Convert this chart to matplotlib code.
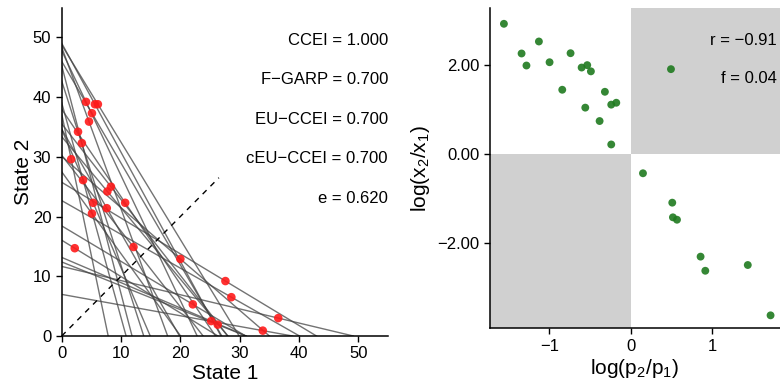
import numpy as np
import matplotlib
matplotlib.use('Agg')
import matplotlib.pyplot as plt
from matplotlib.ticker import FuncFormatter

plt.rcParams['font.family'] = ['Liberation Sans', 'DejaVu Sans']

# chosen bundles (state 1, state 2) and log price ratio log(p2/p1)
state1 = [4.1, 5.6, 6.1, 5.1, 4.6, 2.75, 3.4, 1.6, 3.6, 8.3, 7.7, 5.3, 10.7,
          7.6, 5.1, 2.2, 12.1, 20.0, 27.6, 28.6, 22.1, 36.5, 25.2, 26.3, 33.9]
state2 = [39.2, 38.8, 38.8, 37.3, 35.9, 34.2, 32.3, 29.6, 26.1, 25.0, 24.2, 22.3, 22.3,
          21.4, 20.5, 14.7, 14.9, 12.9, 9.2, 6.5, 5.3, 3.0, 2.5, 1.9, 0.9]
log_price = [-0.738, -0.602, -0.488, -0.533, -0.996, -1.127, -1.34, -1.557, -1.28, -0.238,
             -0.176, -0.84, -0.381, -0.557, -0.316, 0.496, -0.238, 0.152, 0.512, 0.57,
             0.52, 1.44, 0.86, 0.918, 1.72]

left_labels = ['CCEI = 1.000', 'F\u2212GARP = 0.700', 'EU\u2212CCEI = 0.700',
               'cEU\u2212CCEI = 0.700', 'e = 0.620']
right_labels = ['r = \u22120.91', 'f = 0.04']

x1 = np.array(state1)
x2 = np.array(state2)
lp = np.array(log_price)
ratio = np.exp(lp)  # p2/p1
lx = np.log(x2 / x1)

fig = plt.figure(figsize=(7.8, 3.83), dpi=100)
ax1 = fig.add_axes([0.0791, 0.1227, 0.4183, 0.8577])
ax2 = fig.add_axes([0.628, 0.1428, 0.372, 0.836])

def style(ax):
    for s in ['top', 'right']:
        ax.spines[s].set_visible(False)
    for s in ['left', 'bottom']:
        ax.spines[s].set_linewidth(1.1)
    ax.tick_params(direction='out', length=4, width=1, labelsize=12, colors='black')

# ---- left: budget lines and choices
for a, b, r in zip(x1, x2, ratio):
    a_int = a + b * r
    b_int = b + a / r
    ax1.plot([0, a_int], [b_int, 0], color='#444444', alpha=0.75, lw=1)
ax1.plot([0, 26.5], [0, 26.5], color='black', ls=(0, (4, 4)), lw=1)
ax1.scatter(x1, x2, s=38, color='#ff1a1a', alpha=0.9, edgecolors='none', zorder=3)
ax1.set_xlim(0, 55)
ax1.set_ylim(0, 55)
ax1.set_xticks([0, 10, 20, 30, 40, 50])
ax1.set_yticks([0, 10, 20, 30, 40, 50])
ax1.set_xlabel('State 1', fontsize=15, labelpad=2)
ax1.set_ylabel('State 2', fontsize=15, labelpad=0)
style(ax1)
for i, t in enumerate(left_labels):
    ax1.text(1.0, 0.90 - 0.12 * i, t, transform=ax1.transAxes, ha='right', va='center',
             fontsize=12)

# ---- right: log price ratio vs log demand ratio
xl = (-1.73, 1.836)
yl = (-3.92, 3.27)
ax2.fill_between([0, xl[1]], 0, yl[1], color='#d0d0d0', lw=0, zorder=0)
ax2.fill_between([xl[0], 0], yl[0], 0, color='#d0d0d0', lw=0, zorder=0)
ax2.scatter(lp, lx, s=32, color='#1f7a1f', alpha=0.9, edgecolors='none', zorder=3)
ax2.set_xlim(*xl)
ax2.set_ylim(*yl)
ax2.set_xticks([-1, 0, 1])
ax2.set_yticks([-2, 0, 2])
ax2.xaxis.set_major_formatter(FuncFormatter(lambda v, p: f'{v:.0f}'.replace('-', '\u2212')))
ax2.yaxis.set_major_formatter(FuncFormatter(lambda v, p: f'{v:.2f}'.replace('-', '\u2212')))
ax2.set_xlabel(r'$\mathregular{log(p_2/p_1)}$', fontsize=15, labelpad=2)
ax2.set_ylabel(r'$\mathregular{log(x_2/x_1)}$', fontsize=15, labelpad=4)
style(ax2)
for i, t in enumerate(right_labels):
    ax2.text(0.99, 0.90 - 0.12 * i, t, transform=ax2.transAxes, ha='right', va='center',
             fontsize=12)

fig.savefig('out.png', dpi=100)
